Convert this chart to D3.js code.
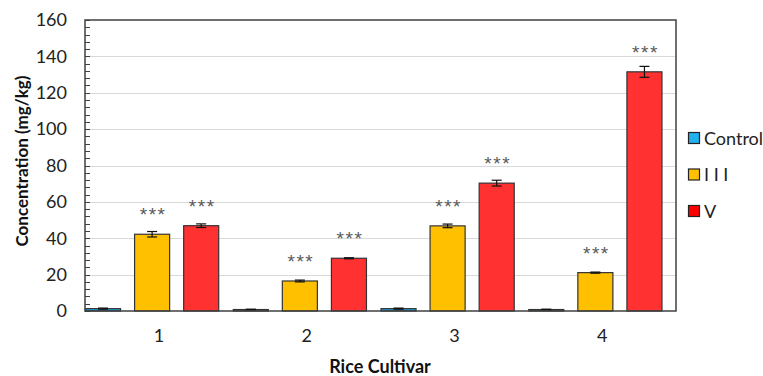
<!DOCTYPE html>
<html>
<head>
<meta charset="utf-8">
<script src="https://cdn.jsdelivr.net/npm/d3@7"></script>
<style>
  html, body { margin: 0; padding: 0; background: #fff; }
  svg text { font-family: Lato, "Open Sans", sans-serif; }
  svg text.stars { font-family: "Liberation Sans", Arial, sans-serif; }
</style>
</head>
<body>
<svg id="chart" width="763" height="376"></svg>
<script>
const categories = ["1", "2", "3", "4"];
const seriesNames = ["Control", "III", "V"];
const controlValues = [1.3, 0.8, 1.3, 0.8];
const controlErrors = [0.3, 0.2, 0.3, 0.2];
const iiiValues = [42.2, 16.5, 46.8, 21.1];
const iiiErrors = [1.5, 0.5, 1.0, 0.3];
const vValues = [46.9, 29.0, 70.3, 131.5];
const vErrors = [1.0, 0.3, 1.6, 3.0];
const significance = [
  ["", "***", "***"],
  ["", "***", "***"],
  ["", "***", "***"],
  ["", "***", "***"]
];
const yTicks = [0, 20, 40, 60, 80, 100, 120, 140, 160];
const yMinorTicks = d3.range(0, 161, 4);
const barColors = ["#1f9fd9", "#ffc000", "#ff3131"];
const legendColors = ["#22b0ee", "#ffc000", "#ff0000"];

const valuesBySeries = [controlValues, iiiValues, vValues];
const errorsBySeries = [controlErrors, iiiErrors, vErrors];

const svg = d3.select("#chart");
const m = { left: 85, right: 676, top: 20, bottom: 311 };

const x0 = d3.scaleBand().domain(categories).range([m.left, m.right]).paddingInner(0).paddingOuter(0);
const x1 = d3.scaleBand().domain(seriesNames).range([0.5, x0.bandwidth() * 0.905]).paddingInner(0.286).paddingOuter(0);
const y = d3.scaleLinear().domain([0, 160]).range([m.bottom, m.top]);

// gridlines
svg.append("g")
  .selectAll("line")
  .data(yTicks.filter(d => d > 0 && d < 160))
  .join("line")
  .attr("x1", m.left).attr("x2", m.right)
  .attr("y1", d => Math.round(y(d)) + 0.5).attr("y2", d => Math.round(y(d)) + 0.5)
  .attr("stroke", "#d9d9d9").attr("stroke-width", 1.2);

// minor ticks (inside)
svg.append("g")
  .selectAll("line")
  .data(yMinorTicks)
  .join("line")
  .attr("x1", m.left).attr("x2", m.left + 5)
  .attr("y1", d => Math.round(y(d)) + 0.5).attr("y2", d => Math.round(y(d)) + 0.5)
  .attr("stroke", "#404040").attr("stroke-width", 1);

// y axis labels
const yAxis = d3.axisLeft(y).tickValues(yTicks).tickSize(0).tickPadding(18);
const gy = svg.append("g").attr("transform", `translate(${m.left},0)`).call(yAxis);
gy.select(".domain").remove();
gy.selectAll("text").attr("font-size", 18).attr("fill", "#222").attr("font-family", "Lato, sans-serif");

// bars
const data = [];
categories.forEach((c, i) => {
  seriesNames.forEach((s, j) => {
    data.push({ c, s, j, v: valuesBySeries[j][i], e: errorsBySeries[j][i], sig: significance[i][j] });
  });
});

svg.append("g")
  .selectAll("rect")
  .data(data)
  .join("rect")
  .attr("x", d => x0(d.c) + x1(d.s))
  .attr("y", d => y(d.v))
  .attr("width", x1.bandwidth())
  .attr("height", d => y(0) - y(d.v))
  .attr("fill", d => barColors[d.j])
  .attr("stroke", "#333")
  .attr("stroke-width", 1.2);

// error bars
const eb = svg.append("g").attr("stroke", "#111").attr("stroke-width", 1.2);
data.forEach(d => {
  const cx = x0(d.c) + x1(d.s) + x1.bandwidth() / 2;
  eb.append("line").attr("x1", cx).attr("x2", cx).attr("y1", y(d.v + d.e)).attr("y2", y(d.v - d.e));
  eb.append("line").attr("x1", cx - 5).attr("x2", cx + 5).attr("y1", y(d.v + d.e)).attr("y2", y(d.v + d.e));
  eb.append("line").attr("x1", cx - 5).attr("x2", cx + 5).attr("y1", y(d.v - d.e)).attr("y2", y(d.v - d.e));
});

// significance stars
svg.append("g")
  .selectAll("text")
  .data(data.filter(d => d.sig))
  .join("text")
  .attr("class", "stars")
  .attr("x", d => x0(d.c) + x1(d.s) + x1.bandwidth() / 2 + 1)
  .attr("y", d => y(d.v) - 13)
  .attr("text-anchor", "middle")
  .attr("font-size", 19)
  .attr("letter-spacing", 1.5)
  .attr("fill", "#595959")
  .text(d => d.sig);

// frame
svg.append("rect")
  .attr("x", m.left).attr("y", m.top)
  .attr("width", m.right - m.left).attr("height", m.bottom - m.top)
  .attr("fill", "none").attr("stroke", "#404040").attr("stroke-width", 1.5);

// x axis labels
const xAxis = d3.axisBottom(x0).tickSize(0).tickPadding(18);
const gx = svg.append("g").attr("transform", `translate(0,${m.bottom})`).call(xAxis);
gx.select(".domain").remove();
gx.selectAll("text").attr("font-size", 18).attr("fill", "#222").attr("font-family", "Lato, sans-serif");

// axis titles
svg.append("text")
  .attr("x", 380).attr("y", 373)
  .attr("text-anchor", "middle")
  .attr("font-size", 18).attr("font-weight", "bold").attr("fill", "#111")
  .text("Rice Cultivar");

svg.append("text")
  .attr("transform", "translate(28,161) rotate(-90)")
  .attr("text-anchor", "middle")
  .attr("font-size", 17).attr("font-weight", "bold").attr("fill", "#111")
  .text("Concentration (mg/kg)");

// legend
const legend = svg.append("g");
seriesNames.forEach((s, j) => {
  const ly = 138 + j * 36.5;
  legend.append("rect")
    .attr("x", 688.5).attr("y", ly - 5.5)
    .attr("width", 11).attr("height", 11)
    .attr("fill", legendColors[j]).attr("stroke", "#222").attr("stroke-width", 1.2);
  legend.append("text")
    .attr("x", 704).attr("y", ly + 6.5)
    .attr("font-size", 18).attr("fill", "#222")
    .text(s === "III" ? "I I I" : s);
});
</script>
</body>
</html>
